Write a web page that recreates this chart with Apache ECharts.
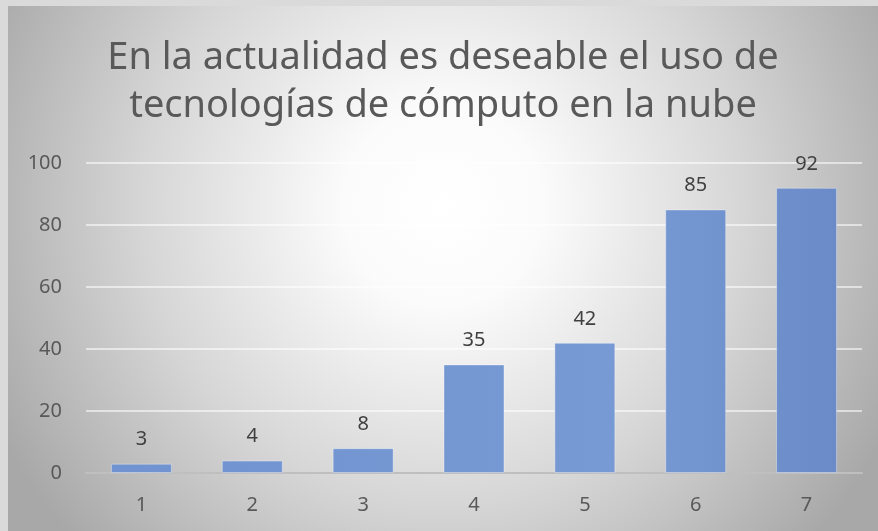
<!DOCTYPE html>
<html>
<head>
<meta charset="utf-8">
<script src="https://cdn.jsdelivr.net/npm/echarts@6/dist/echarts.min.js"></script>
<style>
  html, body { margin: 0; padding: 0; background: #dadada; }
  #chart { position: absolute; left: 8px; top: 6px; width: 870px; height: 525px; }
</style>
</head>
<body>
<div id="chart"></div>
<script>
// datos
const categories = ["1", "2", "3", "4", "5", "6", "7"];
const values = [3, 4, 8, 35, 42, 85, 92];
const yTicks = { min: 0, max: 100, interval: 20 };
const titleText = "En la actualidad es deseable el uso de\ntecnologías de cómputo en la nube";

const chart = echarts.init(document.getElementById("chart"));

const option = {
  backgroundColor: {
    type: "radial",
    x: 0.5,
    y: 0.38,
    r: 0.95,
    colorStops: [
      { offset: 0, color: "#ffffff" },
      { offset: 0.2, color: "#fbfbfb" },
      { offset: 0.6, color: "#d6d6d6" },
      { offset: 1, color: "#a8a8a8" },
    ],
  },
  textStyle: { fontFamily: "Noto Sans" },
  title: {
    text: titleText,
    left: "center",
    top: 23,
    textStyle: {
      fontFamily: "Noto Sans",
      fontSize: 38,
      fontWeight: "normal",
      color: "#595959",
      lineHeight: 48,
    },
  },
  grid: { left: 78, right: 16, top: 157, bottom: 58 },
  xAxis: {
    type: "category",
    data: categories,
    axisTick: { show: false },
    axisLine: { lineStyle: { color: "#bfbfbf", width: 2 } },
    axisLabel: { color: "#595959", fontSize: 20, margin: 22 },
  },
  yAxis: {
    type: "value",
    min: yTicks.min,
    max: yTicks.max,
    interval: yTicks.interval,
    axisLine: { show: false },
    axisTick: { show: false },
    axisLabel: { color: "#595959", fontSize: 20, margin: 24 },
    splitLine: { lineStyle: { color: "rgba(255,255,255,0.75)", width: 1.5 } },
  },
  series: [
    {
      type: "bar",
      data: values,
      barWidth: "55%",
      itemStyle: {
        color: {
          type: "linear",
          x: 0, y: 0, x2: 870, y2: 0,
          global: true,
          colorStops: [
            { offset: 0, color: "#6f91cf" },
            { offset: 0.7, color: "#779ad4" },
            { offset: 1, color: "#6888c5" },
          ],
        },
        borderColor: "rgba(255,255,255,0.35)",
        borderWidth: 1,
      },
      label: {
        show: true,
        position: "top",
        distance: 14,
        color: "#404040",
        fontSize: 20,
      },
    },
  ],
};

chart.setOption(option);
window.onresize = function () {
  chart.resize();
};
</script>
</body>
</html>
